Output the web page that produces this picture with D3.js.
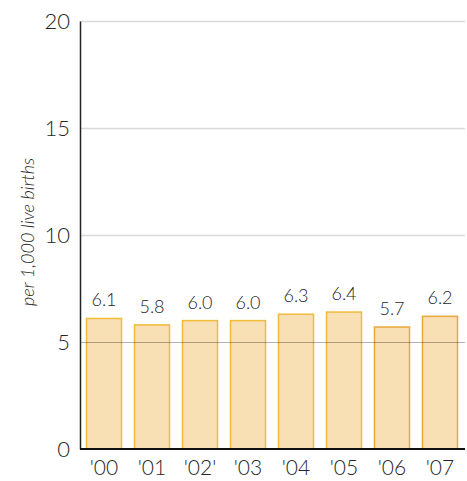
<!DOCTYPE html>
<html>
<head>
<meta charset="utf-8">
<script src="https://cdn.jsdelivr.net/npm/d3@7"></script>
<style>
  html, body { margin: 0; padding: 0; background: #fff; }
  svg { display: block; }
  text { font-family: "Lato", "DejaVu Sans", sans-serif; fill: #222; }
</style>
</head>
<body>
<svg id="chart" width="467" height="481"></svg>
<script>
// Infant mortality rate, per 1,000 live births
const years = ["'00", "'01", "'02'", "'03", "'04", "'05", "'06", "'07"];
const rates = [6.1, 5.8, 6.0, 6.0, 6.3, 6.4, 5.7, 6.2];
const yTicks = [0, 5, 10, 15, 20];
const yTitle = "per 1,000 live births";

const svg = d3.select("#chart");
const margin = { left: 80, right: 3, top: 21, bottom: 32 };
const W = 467, H = 481;
const FONT = "Lato, 'DejaVu Sans', sans-serif";
const INK = "#262626";

const x = d3.scaleBand()
  .domain(years)
  .range([margin.left, W - margin.right])
  .paddingInner(0.27)
  .paddingOuter(0.135);

const y = d3.scaleLinear()
  .domain([0, 20])
  .range([H - margin.bottom, margin.top]);

// light gridlines behind the bars
svg.append("g")
  .selectAll("line")
  .data(yTicks.filter(d => d > 5))
  .join("line")
  .attr("x1", margin.left)
  .attr("x2", W - margin.right + 1)
  .attr("y1", d => Math.round(y(d)) + 0.5)
  .attr("y2", d => Math.round(y(d)) + 0.5)
  .attr("stroke", "#d9d9d9")
  .attr("stroke-width", 1.5);

// bars
svg.append("g")
  .selectAll("rect")
  .data(rates)
  .join("rect")
  .attr("x", (d, i) => x(years[i]))
  .attr("y", d => y(d))
  .attr("width", x.bandwidth())
  .attr("height", d => y(0) - y(d))
  .attr("fill", "#f8dfb4")
  .attr("stroke", (d, i) => i >= 6 ? "#eaa93c" : "#f2bb3c")
  .attr("stroke-width", 1.5);

// the 5 gridline sits over the bars
svg.append("line")
  .attr("x1", margin.left)
  .attr("x2", W - margin.right + 1)
  .attr("y1", Math.round(y(5)) + 0.5)
  .attr("y2", Math.round(y(5)) + 0.5)
  .attr("stroke", "#000")
  .attr("stroke-opacity", 0.3)
  .attr("stroke-width", 1);

// value labels
svg.append("g")
  .selectAll("text")
  .data(rates)
  .join("text")
  .attr("x", (d, i) => x(years[i]) + x.bandwidth() / 2)
  .attr("y", d => y(d) - 12)
  .attr("text-anchor", "middle")
  .attr("font-size", 18)
  .attr("font-weight", 300)
  .style("fill", INK)
  .text(d => d.toFixed(1));

// y axis
const yAxis = d3.axisLeft(y).tickValues(yTicks).tickSize(0).tickPadding(10);
const gy = svg.append("g")
  .attr("transform", `translate(${margin.left},0)`)
  .call(yAxis);
gy.select(".domain").attr("stroke", "#222").attr("stroke-width", 1.5);
gy.selectAll("text")
  .attr("font-size", 22)
  .attr("font-weight", 300)
  .style("fill", INK)
  .attr("font-family", FONT);

// x axis
const xAxis = d3.axisBottom(x).tickSize(0).tickPadding(11);
const gx = svg.append("g")
  .attr("transform", `translate(0,${y(0)})`)
  .call(xAxis);
gx.select(".domain").attr("stroke", "#111").attr("stroke-width", 2)
  .attr("d", `M${margin.left},0H${W - margin.right + 1}`);
gx.selectAll("text")
  .attr("font-size", 21)
  .attr("font-weight", 300)
  .style("fill", INK)
  .attr("font-family", FONT);

// y axis title
svg.append("text")
  .attr("transform", `translate(34, ${(y(20) + y(0)) / 2 - 3}) rotate(-90)`)
  .attr("text-anchor", "middle")
  .attr("font-size", 18)
  .attr("font-style", "italic")
  .attr("font-weight", 300)
  .style("fill", INK)
  .text(yTitle);
</script>
</body>
</html>
